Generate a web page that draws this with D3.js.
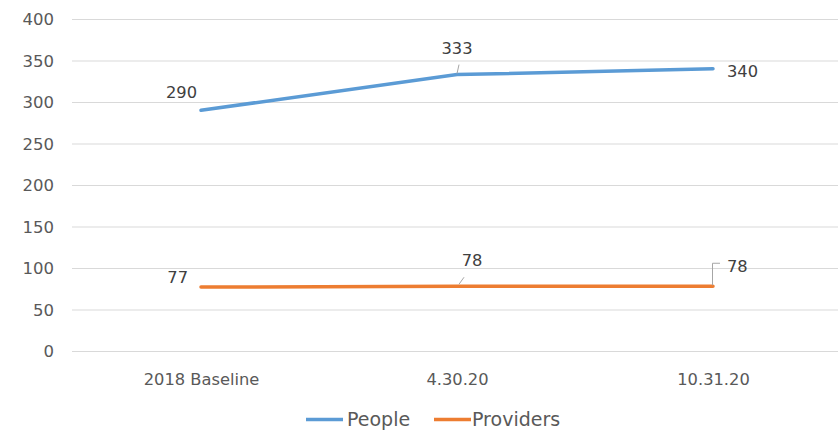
<!DOCTYPE html>
<html><head><meta charset="utf-8">
<script src="https://cdn.jsdelivr.net/npm/d3@7"></script>
<style>
html,body{margin:0;padding:0;background:#fff;}
text{font-family:"DejaVu Sans",sans-serif;}
</style></head>
<body><svg id="c" width="838" height="431"></svg>
<script>
const categories = ["2018 Baseline", "4.30.20", "10.31.20"];
const people = [290, 333, 340];
const providers = [77, 78, 78];
const yTicks = [0, 50, 100, 150, 200, 250, 300, 350, 400];
const seriesNames = ["People", "Providers"];
const colors = ["#5B9BD5", "#ED7D31"];

const svg = d3.select("#c");
const x = d3.scalePoint().domain(categories).range([201, 713]);
const y = d3.scaleLinear().domain([0, 400]).range([351, 19]);

// gridlines
svg.append("g").selectAll("line").data(yTicks).join("line")
  .attr("x1", 72).attr("x2", 838)
  .attr("y1", d => y(d) + 0.5).attr("y2", d => y(d) + 0.5)
  .attr("stroke", "#d9d9d9").attr("stroke-width", 1);

// y axis labels
const yAxis = d3.axisLeft(y).tickValues(yTicks).tickSize(0).tickPadding(0);
const gy = svg.append("g").attr("transform", "translate(54,0)").call(yAxis);
gy.select(".domain").remove();
gy.selectAll("text").attr("font-size", 16.5).attr("fill", "#595959").attr("dy", "0.36em")
  .style("font-family", "DejaVu Sans");

// x axis labels
const xAxis = d3.axisBottom(x).tickSize(0).tickPadding(0);
const gx = svg.append("g").attr("transform", "translate(0,385)").call(xAxis);
gx.select(".domain").remove();
gx.selectAll("text").attr("font-size", 16.3).attr("fill", "#595959").attr("dy", "0").attr("y", 0)
  .style("font-family", "DejaVu Sans");

// lines
const line = d3.line().x((d, i) => x(categories[i])).y(d => y(d));
[people, providers].forEach((s, k) => {
  svg.append("path").datum(s).attr("d", line)
    .attr("fill", "none").attr("stroke", colors[k]).attr("stroke-width", 3.5)
    .attr("stroke-linecap", "round");
});

// leader lines
const leader = (pts) => svg.append("path").attr("d", d3.line()(pts))
  .attr("fill", "none").attr("stroke", "#a6a6a6").attr("stroke-width", 1);
leader([[x(categories[1]), y(people[1]) - 1], [x(categories[1]) + 2, y(people[1]) - 10]]);
leader([[x(categories[1]) + 2, y(providers[1]) - 2], [x(categories[1]) + 7, y(providers[1]) - 9]]);
leader([[x(categories[2]) - 0.5, y(providers[2]) - 1], [x(categories[2]) - 0.5, y(providers[2]) - 23], [x(categories[2]) + 7, y(providers[2]) - 23]]);

// data labels
const lab = (t, px, py, anchor) => svg.append("text").text(t)
  .attr("x", px).attr("y", py).attr("text-anchor", anchor)
  .attr("font-size", 16.3).attr("fill", "#404040");
lab(people[0], x(categories[0]) - 4, y(people[0]) - 12, "end");
lab(people[1], x(categories[1]), y(people[1]) - 21, "middle");
lab(people[2], x(categories[2]) + 14, y(people[2]) + 8, "start");
lab(providers[0], x(categories[0]) - 13, y(providers[0]) - 4, "end");
lab(providers[1], x(categories[1]) + 15, y(providers[1]) - 20, "middle");
lab(providers[2], x(categories[2]) + 14, y(providers[2]) - 14, "start");

// legend
const legend = [[306, 347], [434, 472]];
seriesNames.forEach((n, k) => {
  svg.append("line").attr("x1", legend[k][0]).attr("x2", legend[k][0] + 37)
    .attr("y1", 419.5).attr("y2", 419.5).attr("stroke", colors[k]).attr("stroke-width", 3.5);
  svg.append("text").text(n).attr("x", legend[k][1]).attr("y", 425.5)
    .attr("font-size", 19).attr("fill", "#595959");
});
</script></body></html>
